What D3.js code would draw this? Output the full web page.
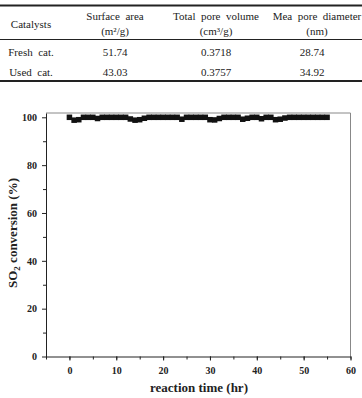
<!DOCTYPE html>
<html lang="en">
<head>
<meta charset="utf-8">
<title>SO2 conversion</title>
<script src="https://cdn.jsdelivr.net/npm/d3@7/dist/d3.min.js"></script>
<style>
  body { margin: 0; background: white; }
  svg { display: block; }
  svg text { font-family: "Liberation Serif", "Times New Roman", Times, serif; }
  .tbl text { font-size: 11px; fill: #222; }
  .axis text { font-size: 10px; font-weight: bold; fill: #222; }
  .axis path, .axis line { stroke: #222; }
  .title { font-size: 13px; font-weight: bold; fill: #222; }
</style>
</head>
<body>
<div id="chart"></div>
<script>
// table contents
var headers = [["Catalysts", ""], ["Surface  area", "(m²/g)"], ["Total  pore  volume", "(cm³/g)"], ["Mea  pore  diameter", "(nm)"]];
var catalysts = ["Fresh  cat.", "Used  cat."];
var surfaceArea = ["51.74", "43.03"];
var poreVolume = ["0.3718", "0.3757"];
var poreDiameter = ["28.74", "34.92"];

// chart data
var times = [0,1,2,3,4,5,6,7,8,9,10,11,12,13,14,15,16,17,18,19,20,21,22,23,24,25,26,27,28,29,30,31,32,33,34,35,36,37,38,39,40,41,42,43,44,45,46,47,48,49,50,51,52,53,54,55];
var conversion = [100,98.8,99,100,100,100,99.5,100,100,100,100,100,100,99.3,98.8,99,99.6,100,100,100,100,100,100,100,99.2,100,100,100,100,100,99,98.9,99.5,100,100,100,100,99.2,99.6,100,100,99.4,100,100,99,99.2,99.7,100,100,100,100,100,100,100,100,100];
var xTicks = [0,10,20,30,40,50,60];
var yTicks = [0,20,40,60,80,100];

var W = 362, H = 398;
var svg = d3.select("#chart").append("svg").attr("width", W).attr("height", H);

// ---- table ----
var tbl = svg.append("g").attr("class", "tbl");
var colX = [31, 115, 216, 317];
tbl.append("line").attr("x1", 0).attr("x2", W).attr("y1", 5.5).attr("y2", 5.5).attr("stroke", "#222").attr("stroke-width", 2);
tbl.append("line").attr("x1", 0).attr("x2", W).attr("y1", 39.5).attr("y2", 39.5).attr("stroke", "#222").attr("stroke-width", 1);
tbl.append("line").attr("x1", 0).attr("x2", W).attr("y1", 81).attr("y2", 81).attr("stroke", "#222").attr("stroke-width", 2);

headers.forEach(function(h, i) {
  if (h[1] === "") {
    tbl.append("text").attr("x", colX[i]).attr("y", 28).attr("text-anchor", "middle").text(h[0]);
  } else {
    tbl.append("text").attr("x", colX[i]).attr("y", 20).attr("text-anchor", "middle").attr("xml:space", "preserve").text(h[0]);
    tbl.append("text").attr("x", colX[i]).attr("y", 35).attr("text-anchor", "middle").text(h[1]);
  }
});
var rowY = [56, 76];
catalysts.forEach(function(c, i) {
  tbl.append("text").attr("x", colX[0]).attr("y", rowY[i]).attr("text-anchor", "middle").attr("xml:space", "preserve").text(c);
  tbl.append("text").attr("x", colX[1]).attr("y", rowY[i]).attr("text-anchor", "middle").text(surfaceArea[i]);
  tbl.append("text").attr("x", colX[2]).attr("y", rowY[i]).attr("text-anchor", "middle").text(poreVolume[i]);
  tbl.append("text").attr("x", colX[3] - 5).attr("y", rowY[i]).attr("text-anchor", "middle").text(poreDiameter[i]);
});

// ---- chart ----
var x = d3.scaleLinear().domain([-5, 60]).range([46, 350.5]);
var y = d3.scaleLinear().domain([0, 101.8]).range([356.5, 113]);

// frame top/right
svg.append("line").attr("x1", x(-5)).attr("x2", x(60)).attr("y1", y(101.8)).attr("y2", y(101.8)).attr("stroke", "#888");
svg.append("line").attr("x1", x(60)).attr("x2", x(60)).attr("y1", y(101.8)).attr("y2", y(0)).attr("stroke", "#888");

svg.append("g").attr("class", "axis")
  .attr("transform", "translate(0," + y(0) + ")")
  .call(d3.axisBottom(x).tickValues(d3.range(-5, 61, 5)).tickSize(3).tickFormat(""))
  .call(function(g) { g.select(".domain").remove(); });
svg.append("g").attr("class", "axis")
  .attr("transform", "translate(0," + y(0) + ")")
  .call(d3.axisBottom(x).tickValues(xTicks).tickSizeInner(4).tickSizeOuter(0).tickPadding(6));

svg.append("g").attr("class", "axis")
  .attr("transform", "translate(" + x(-5) + ",0)")
  .call(d3.axisLeft(y).tickValues(d3.range(10, 101, 20)).tickSize(3).tickFormat(""))
  .call(function(g) { g.select(".domain").remove(); });
svg.append("g").attr("class", "axis")
  .attr("transform", "translate(" + x(-5) + ",0)")
  .call(d3.axisLeft(y).tickValues(yTicks).tickSizeInner(4).tickSizeOuter(0).tickPadding(5));

// markers
var sz = 5.5;
svg.append("g").selectAll("rect").data(times).enter().append("rect")
  .attr("x", function(d) { return x(d) - sz / 2; })
  .attr("y", function(d, i) { return y(conversion[i]) - sz / 2; })
  .attr("width", sz).attr("height", sz)
  .attr("fill", "#111");

// titles
svg.append("text").attr("class", "title").attr("x", 199).attr("y", 392).attr("text-anchor", "middle").text("reaction time (hr)");
var yt = svg.append("text").attr("class", "title")
  .attr("transform", "translate(17,233) rotate(-90)").attr("text-anchor", "middle");
yt.append("tspan").text("SO");
yt.append("tspan").attr("font-size", "9px").attr("dy", 3).text("2");
yt.append("tspan").attr("dy", -3).text(" conversion (%)");
</script>
</body>
</html>
